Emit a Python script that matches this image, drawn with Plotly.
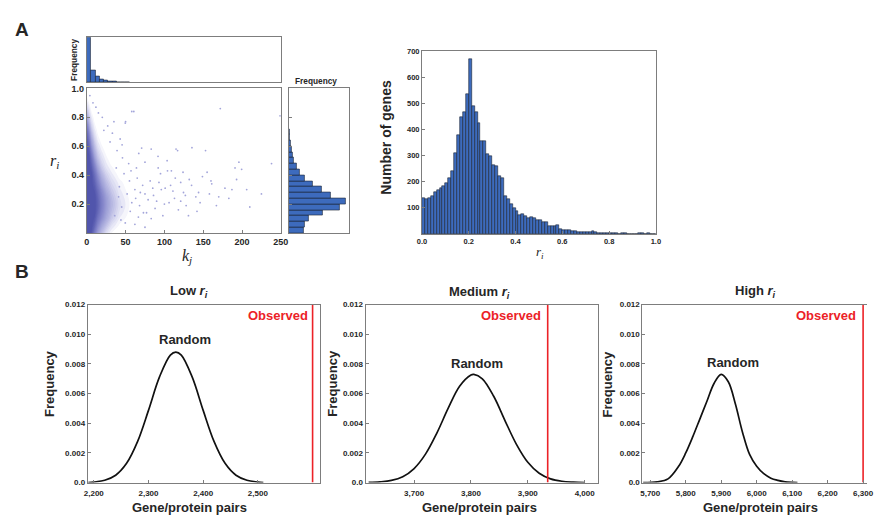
import plotly.graph_objects as go

W, H = 875, 519

BAR_FILL = "#3D6BBD"
BAR_EDGE = "#1B2333"
FRAME = "#7d7d7d"
TEXT = "#262626"
RED = "#ec2227"
SANS = "Liberation Sans"
SERIF = "Liberation Serif"

# ---------------- Panel A data ----------------
# marginal histogram of k_j (top)
k_bin_width = 5.5
k_counts = [5200, 1400, 730, 370, 210, 130, 90, 60, 45, 35]

# marginal histogram of r_i (right), bins of 0.04
r_bin_width = 0.04
r_marg_counts = [450, 500, 620, 1050, 1550, 1740, 1270, 990, 720, 500,
                 320, 230, 150, 130, 100, 60, 30, 20, 10, 6,
                 3, 0, 0, 0, 0]

# point density of the k_j / r_i cloud (rows: r_i, columns: k_j)
dens_k = [0, 3, 6, 10, 14, 19, 25, 32, 42, 55, 70]
dens_r = [0.00, 0.05, 0.10, 0.15, 0.20, 0.25, 0.30, 0.35, 0.40, 0.45,
          0.50, 0.55, 0.60, 0.65, 0.70, 0.75, 0.80, 0.85, 0.90, 0.95, 1.00]
dens_z = [
    [1.00, 1.00, 0.95, 0.70, 0.50, 0.32, 0.18, 0.08, 0.03, 0.01, 0.00],
    [1.00, 1.00, 1.00, 0.85, 0.62, 0.45, 0.30, 0.16, 0.07, 0.02, 0.00],
    [1.00, 1.00, 1.00, 0.95, 0.75, 0.58, 0.42, 0.26, 0.12, 0.05, 0.01],
    [1.00, 1.00, 1.00, 1.00, 0.85, 0.65, 0.48, 0.32, 0.16, 0.07, 0.02],
    [1.00, 1.00, 1.00, 1.00, 0.88, 0.68, 0.50, 0.35, 0.18, 0.08, 0.02],
    [1.00, 1.00, 1.00, 1.00, 0.85, 0.65, 0.48, 0.32, 0.16, 0.07, 0.02],
    [1.00, 1.00, 1.00, 0.95, 0.78, 0.58, 0.40, 0.26, 0.13, 0.05, 0.01],
    [1.00, 1.00, 1.00, 0.88, 0.68, 0.48, 0.32, 0.20, 0.10, 0.04, 0.00],
    [1.00, 1.00, 1.00, 0.80, 0.58, 0.38, 0.24, 0.14, 0.06, 0.02, 0.00],
    [1.00, 1.00, 0.92, 0.68, 0.46, 0.28, 0.16, 0.09, 0.04, 0.01, 0.00],
    [1.00, 1.00, 0.82, 0.55, 0.34, 0.20, 0.11, 0.05, 0.02, 0.00, 0.00],
    [1.00, 0.95, 0.70, 0.42, 0.25, 0.14, 0.07, 0.03, 0.01, 0.00, 0.00],
    [1.00, 0.85, 0.56, 0.32, 0.17, 0.09, 0.04, 0.02, 0.00, 0.00, 0.00],
    [0.95, 0.72, 0.44, 0.23, 0.11, 0.05, 0.02, 0.01, 0.00, 0.00, 0.00],
    [0.85, 0.58, 0.32, 0.15, 0.07, 0.03, 0.01, 0.00, 0.00, 0.00, 0.00],
    [0.68, 0.42, 0.21, 0.09, 0.04, 0.02, 0.00, 0.00, 0.00, 0.00, 0.00],
    [0.48, 0.28, 0.13, 0.05, 0.02, 0.01, 0.00, 0.00, 0.00, 0.00, 0.00],
    [0.30, 0.16, 0.07, 0.02, 0.01, 0.00, 0.00, 0.00, 0.00, 0.00, 0.00],
    [0.15, 0.08, 0.03, 0.01, 0.00, 0.00, 0.00, 0.00, 0.00, 0.00, 0.00],
    [0.06, 0.03, 0.01, 0.00, 0.00, 0.00, 0.00, 0.00, 0.00, 0.00, 0.00],
    [0.02, 0.01, 0.00, 0.00, 0.00, 0.00, 0.00, 0.00, 0.00, 0.00, 0.00],
]

# isolated genes outside the dense cloud
sparse_k = [70.7, 135.5, 153, 115, 238, 103.5, 191, 199.5, 109, 124,
            132, 149, 160, 193, 187, 206, 140.5, 113, 124.6, 96,
            81.7, 75, 90, 56, 77, 58, 4, 11.8, 49.6, 45.5,
            83, 91.8, 117, 155, 121, 144, 111, 79, 100, 121,
            142, 161, 66.5, 49.6, 83, 20, 35, 22, 43, 64,
            75, 104, 172, 249, 50, 60.6, 196, 42, 45, 48,
            52, 55, 58, 62, 65, 68, 72, 85, 88, 95,
            98, 108, 118, 128, 135, 170, 178, 210, 225, 46,
            54, 39, 62, 75, 30, 33, 27, 15, 8, 38,
            41, 36, 44, 57, 63, 69, 73, 86, 93, 101,
            106, 114, 127, 131, 146, 158, 167, 183, 92, 67]
sparse_r = [0.587, 0.59, 0.57, 0.58, 0.48, 0.50, 0.45, 0.44, 0.43, 0.42,
            0.37, 0.39, 0.36, 0.37, 0.30, 0.30, 0.25, 0.24, 0.28, 0.30,
            0.36, 0.27, 0.22, 0.15, 0.14, 0.84, 0.95, 0.87, 0.76, 0.61,
            0.58, 0.53, 0.57, 0.42, 0.35, 0.28, 0.29, 0.23, 0.20, 0.22,
            0.15, 0.34, 0.11, 0.07, 0.10, 0.80, 0.77, 0.71, 0.65, 0.45,
            0.49, 0.43, 0.86, 0.81, 0.77, 0.84, 0.49, 0.32, 0.18, 0.41,
            0.27, 0.36, 0.21, 0.30, 0.38, 0.19, 0.33, 0.31, 0.17, 0.41,
            0.12, 0.33, 0.16, 0.19, 0.33, 0.25, 0.31, 0.18, 0.27, 0.52,
            0.48, 0.57, 0.06, 0.04, 0.63, 0.69, 0.74, 0.83, 0.90, 0.45,
            0.25, 0.12, 0.09, 0.43, 0.24, 0.28, 0.14, 0.26, 0.35, 0.31,
            0.21, 0.38, 0.26, 0.12, 0.21, 0.27, 0.19, 0.24, 0.45, 0.55]

# histogram of r_i (number of genes), bins of 0.0125 from 0 to 1
hist_bin_width = 0.0125
hist_counts = [138, 134, 137, 145, 160, 168, 176, 185, 195, 215,
               240, 310, 380, 447, 466, 535, 668, 490, 465, 425,
               355, 355, 305, 300, 262, 258, 223, 214, 147, 132,
               115, 100, 88, 72, 76, 68, 60, 66, 62, 55,
               52, 47, 46, 32, 30, 30, 36, 17, 16, 15,
               14, 10, 10, 9, 9, 8, 6, 6, 11, 6,
               5, 4, 3, 3, 2, 2, 2, 1, 2, 4,
               1, 0, 1, 1, 2, 2, 1, 2, 1, 0]

# ---------------- Panel B data ----------------
low_x = [2190, 2200, 2220, 2240, 2260, 2280, 2300, 2320, 2340, 2350,
         2360, 2380, 2400, 2420, 2440, 2460, 2480, 2500, 2510]
low_y = [0.0, 0.00004, 0.00016, 0.0005, 0.0013, 0.00276, 0.00487, 0.00711, 0.0086, 0.0088,
         0.0086, 0.00711, 0.00487, 0.00276, 0.0013, 0.0005, 0.00016, 0.00004, 0.0]

med_x = [3620, 3640, 3660, 3680, 3700, 3720, 3740, 3760, 3780, 3800, 3805,
         3820, 3840, 3860, 3880, 3900, 3920, 3940, 3960, 3980, 4000]
med_y = [0.00001, 0.00005, 0.00015, 0.0004, 0.00095, 0.00192, 0.00334, 0.00502, 0.0065, 0.00726, 0.0073,
         0.0070, 0.00582, 0.00417, 0.00258, 0.00137, 0.00063, 0.00025, 0.00009, 0.00003, 0.0]

high_x = [5680, 5720, 5750, 5780, 5800, 5820, 5840, 5860, 5880, 5900, 5920,
          5940, 5960, 5980, 6000, 6020, 6040, 6060, 6080, 6100, 6115]
high_y = [0.0, 0.00005, 0.00025, 0.0011, 0.0020, 0.0031, 0.0043, 0.0055, 0.0067, 0.0073, 0.0068,
          0.0053, 0.0034, 0.0019, 0.0011, 0.0006, 0.0003, 0.00015, 0.00005, 0.00001, 0.0]

observed = [2600, 3935, 6300]

freq_ticks = [0, 0.002, 0.004, 0.006, 0.008, 0.010, 0.012]
freq_labels = ["0.0", "0.002", "0.004", "0.006", "0.008", "0.010", "0.012"]


def fx(p):
    return p / W


def fy(p):
    return 1 - p / H


def box_axis(domain, rng, size=8, **kw):
    d = dict(domain=domain, range=rng, showline=True, linecolor=FRAME, linewidth=1,
             mirror=True, ticks="inside", ticklen=3, tickcolor=FRAME, tickwidth=1,
             showgrid=False, zeroline=False, fixedrange=True,
             tickfont=dict(family=SANS, size=size, color=TEXT, weight="bold"))
    d.update(kw)
    return d


bar_style = dict(color=BAR_FILL, line=dict(color=BAR_EDGE, width=0.6))

fig = go.Figure()

# top marginal histogram of k_j
k_centers = [k_bin_width * (i + 0.5) for i in range(len(k_counts))]
fig.add_trace(go.Bar(x=k_centers, y=k_counts, width=k_bin_width, marker=bar_style,
                     xaxis="x", yaxis="y", showlegend=False, hoverinfo="skip"))

# scatter of r_i against k_j: dense cloud as filled density, isolated genes as points
fig.add_trace(go.Contour(x=dens_k, y=dens_r, z=dens_z, zmin=0, zmax=1,
                         contours=dict(start=0.04, end=1.0, size=0.04, coloring="fill"),
                         line=dict(width=0, smoothing=1.2),
                         colorscale=[[0, "#ffffff"], [0.04, "#ffffff"], [0.08, "#ededf8"],
                                     [0.3, "#b9bae3"], [0.6, "#8587cb"], [1, "#4e52aa"]],
                         showscale=False, xaxis="x2", yaxis="y2", hoverinfo="skip"))
fig.add_trace(go.Scatter(x=sparse_k, y=sparse_r, mode="markers",
                         marker=dict(size=1.8, color="#a3a5da"),
                         xaxis="x2", yaxis="y2", showlegend=False, hoverinfo="skip"))

# right marginal histogram of r_i
r_centers = [r_bin_width * (i + 0.5) for i in range(len(r_marg_counts))]
fig.add_trace(go.Bar(y=r_centers, x=r_marg_counts, width=r_bin_width, orientation="h",
                     marker=bar_style, xaxis="x3", yaxis="y3", showlegend=False, hoverinfo="skip"))

# histogram of r_i
hist_centers = [hist_bin_width * (i + 0.5) for i in range(len(hist_counts))]
fig.add_trace(go.Bar(x=hist_centers, y=hist_counts, width=hist_bin_width, marker=bar_style,
                     xaxis="x4", yaxis="y4", showlegend=False, hoverinfo="skip"))

# random distributions with observed value
curves = [(low_x, low_y), (med_x, med_y), (high_x, high_y)]
for n, ((cx, cy), obs) in enumerate(zip(curves, observed)):
    xa, ya = f"x{5 + n}", f"y{5 + n}"
    fig.add_trace(go.Scatter(x=cx, y=cy, mode="lines", line=dict(color="#111111", width=1.7, shape="spline"),
                             xaxis=xa, yaxis=ya, showlegend=False, hoverinfo="skip"))
    fig.add_trace(go.Scatter(x=[obs, obs], y=[0, 0.012], mode="lines", line=dict(color=RED, width=1.6),
                             xaxis=xa, yaxis=ya, showlegend=False, hoverinfo="skip"))

scatter_xdom = [fx(83), fx(280)]
scatter_ydom = [fy(232.5), fy(85)]
bottom_ydom = [fy(487), fy(305.5)]

layout_axes = dict(
    xaxis=box_axis(scatter_xdom, [0, 250], anchor="y", ticks="", showticklabels=False),
    yaxis=box_axis([fy(79), fy(33)], [0, 5200], anchor="x", ticks="", showticklabels=False),
    xaxis2=box_axis(scatter_xdom, [0, 250], size=9, anchor="y2",
                    tickvals=[0, 50, 100, 150, 200, 250]),
    yaxis2=box_axis(scatter_ydom, [0, 1], size=9, anchor="x2",
                    tickvals=[0.2, 0.4, 0.6, 0.8, 1.0],
                    ticktext=["0.2", "0.4", "0.6", "0.8", "1.0"]),
    xaxis3=box_axis([fx(288), fx(349)], [0, 1830], anchor="y3", ticks="", showticklabels=False),
    yaxis3=box_axis(scatter_ydom, [0, 1], anchor="x3", showticklabels=False,
                    tickvals=[0.2, 0.4, 0.6, 0.8]),
    xaxis4=box_axis([fx(423.3), fx(660.7)], [0, 1], size=7.5, anchor="y4",
                    tickvals=[0, 0.2, 0.4, 0.6, 0.8, 1.0],
                    ticktext=["0.0", "0.2", "0.4", "0.6", "0.8", "1.0"]),
    yaxis4=box_axis([fy(233.5), fy(47)], [0, 700], size=7.5, anchor="x4",
                    tickvals=[100, 200, 300, 400, 500, 600, 700]),
    xaxis5=box_axis([fx(84), fx(320)], [2189, 2614], anchor="y5", ticklabelstandoff=3,
                    tickvals=[2200, 2300, 2400, 2500], tickformat=",d"),
    yaxis5=box_axis(bottom_ydom, [0, 0.012], anchor="x5",
                    tickvals=freq_ticks, ticktext=freq_labels),
    xaxis6=box_axis([fx(366), fx(601.5)], [3614.6, 4022.7], anchor="y6", ticklabelstandoff=3,
                    tickvals=[3700, 3800, 3900, 4000], tickformat=",d"),
    yaxis6=box_axis(bottom_ydom, [0, 0.012], anchor="x6",
                    tickvals=freq_ticks, ticktext=freq_labels),
    xaxis7=box_axis([fx(647), 1.0], [5677.8, 6311], anchor="y7", ticklabelstandoff=3,
                    tickvals=[5700, 5800, 5900, 6000, 6100, 6200, 6300], tickformat=",d",
                    ticklabeloverflow="allow"),
    yaxis7=box_axis(bottom_ydom, [0, 0.012], anchor="x7", mirror=False,
                    tickvals=freq_ticks, ticktext=freq_labels),
)


def label(text, x, y, size, color=TEXT, angle=0, family=SANS, bold=True):
    return dict(text=text, x=fx(x), y=fy(y), xref="paper", yref="paper",
                xanchor="center", yanchor="middle", showarrow=False, textangle=angle,
                font=dict(family=family, size=size, color=color, weight="bold" if bold else "normal"))


ri = "<i>r<sub>i</sub></i>"
kj = "<i>k<sub>j</sub></i>"

annotations = [
    label("A", 17, 25, 19),
    label("B", 17, 272, 19),
    label("Frequency", 70, 56, 8.3, angle=-90),
    label("Frequency", 316, 77, 8.3),
    label(ri, 50, 160, 16, family=SERIF, bold=False),
    label(kj, 185, 256, 16, family=SERIF, bold=False),
    label("Number of genes", 387, 135, 14, angle=-90),
    label(ri, 543, 252, 13, family=SERIF, bold=False),
    label("Low " + ri, 187, 292, 13),
    label("Medium " + ri, 482, 293, 13),
    label("High " + ri, 762, 292, 13),
    label("Random", 183, 341, 13),
    label("Random", 479, 366, 13),
    label("Random", 739, 365, 13),
    label("Observed", 277, 317, 13, color=RED),
    label("Observed", 514, 317, 13, color=RED),
    label("Observed", 833, 317, 13, color=RED),
    label("Frequency", 45, 386, 13, angle=-90),
    label("Frequency", 332, 386, 13, angle=-90),
    label("Frequency", 612, 386, 13, angle=-90),
    label("Gene/protein pairs", 187, 512, 13),
    label("Gene/protein pairs", 482, 512, 13),
    label("Gene/protein pairs", 767, 512, 13),
]

fig.update_layout(
    width=W, height=H, autosize=False,
    margin=dict(l=0, r=0, t=0, b=0, pad=0),
    paper_bgcolor="white", plot_bgcolor="white",
    font=dict(family=SANS, color=TEXT),
    bargap=0, showlegend=False,
    annotations=annotations,
    **layout_axes,
)

fig.write_html("out.html")
